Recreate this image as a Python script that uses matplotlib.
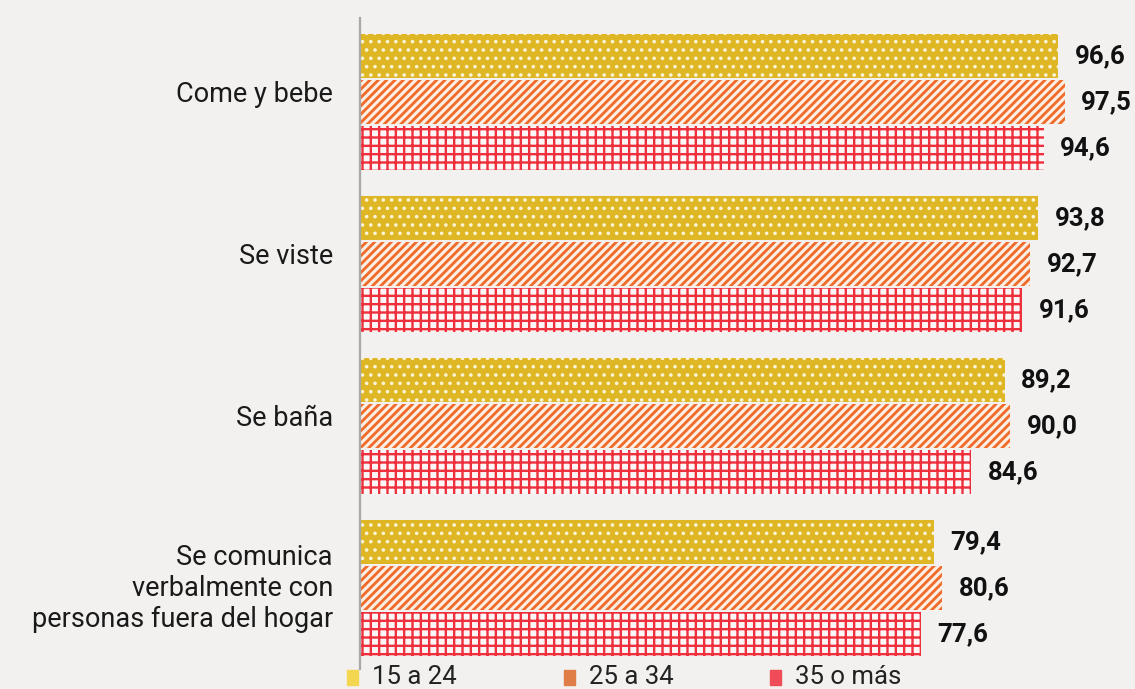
import matplotlib
matplotlib.use('Agg')
import matplotlib.pyplot as plt
from matplotlib.patches import Rectangle

categories = ['Come y bebe', 'Se viste', 'Se baña',
              'Se comunica\nverbalmente con\npersonas fuera del hogar']
groups = ['15 a 24', '25 a 34', '35 o más']
v_15_24 = [96.6, 93.8, 89.2, 79.4]
v_25_34 = [97.5, 92.7, 90.0, 80.6]
v_35_mas = [94.6, 91.6, 84.6, 77.6]

BG = '#f2f1f0'
W, H = 1135, 689


def fmt(v):
    return f'{v:.1f}'.replace('.', ',')


def main():
    plt.rcParams.update({'font.family': ['Roboto', 'DejaVu Sans']})
    fig = plt.figure(figsize=(W / 100, H / 100), dpi=100, facecolor=BG)
    # axis at x=360 px, 7.226 px per unit
    ax = fig.add_axes([360 / W, 0, (W - 360) / W, 1])
    ax.set_facecolor(BG)
    ax.set_xlim(0, (W - 360) / 7.226)
    ax.set_ylim((H - 102.5) / 162, -102.5 / 162)

    series = [
        (v_15_24, '#dfb623', '#fbf3d6', '..', 1.4),
        (v_25_34, '#fbeee3', '#f06a2a', '////', 2.0),
        (v_35_mas, '#fdf6f6', '#ee2f3c', '++', 1.7),
    ]
    step, hgt = 46 / 162, 44 / 162
    for k, (vals, fc, hc, hatch, hlw) in enumerate(series):
        ys = [i + (k - 1) * step for i in range(len(vals))]
        with plt.rc_context({'hatch.linewidth': hlw}):
            bars = ax.barh(ys, vals, height=hgt, color=fc, edgecolor=hc,
                           hatch=hatch, linewidth=0)
            for b in bars:
                if hasattr(b, 'set_hatch_linewidth'):
                    b.set_hatch_linewidth(hlw)
        for y, v in zip(ys, vals):
            ax.annotate(fmt(v), (v, y), xytext=(12, 0), textcoords='offset points',
                        va='center', ha='left', fontsize=18.5, fontweight='bold',
                        color='#111111')

    for i, c in enumerate(categories):
        ax.text(-27 / 7.226, i - 0.05 if '\n' not in c else i, c, ha='right', va='center',
                fontsize=19.5, color='#1a1a1a', linespacing=1.2)

    for s in ['top', 'right', 'bottom']:
        ax.spines[s].set_visible(False)
    ax.spines['left'].set_color('#a8a8a8')
    ax.spines['left'].set_linewidth(1.6)
    ax.spines['left'].set_bounds(3.497, -0.522)
    ax.set_xticks([])
    ax.set_yticks([])

    # legend
    legend_colors = ['#f3d750', '#e07c45', '#ef4c58']
    legend_x = [347, 564, 770]
    for lab, col, x in zip(groups, legend_colors, legend_x):
        fig.patches.append(Rectangle((x / W, (H - 685) / H), 11 / W, 15 / H,
                                     transform=fig.transFigure, color=col))
        fig.text((x + 25) / W, (H - 677) / H, lab, ha='left', va='center',
                 fontsize=18.5, color='#222222')

    fig.savefig('out.png', dpi=100, facecolor=BG)


if __name__ == '__main__':
    main()
